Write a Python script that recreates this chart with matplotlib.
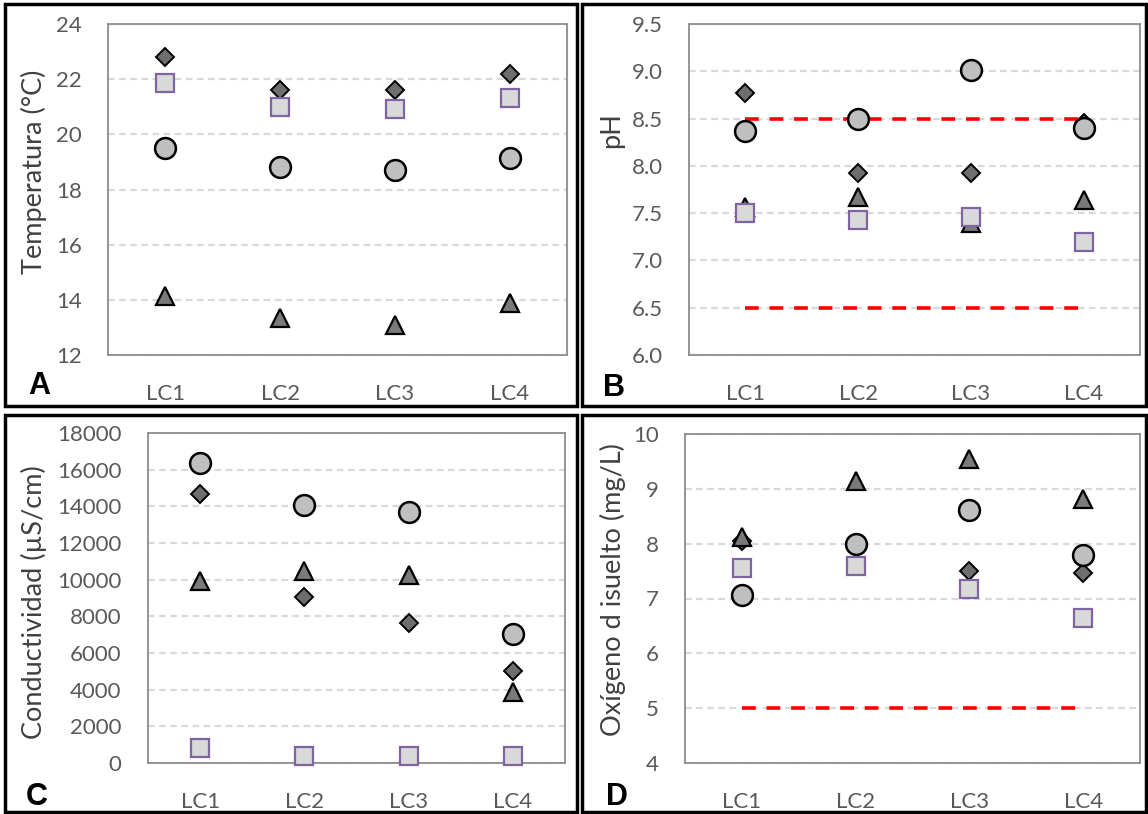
"""Four-panel water quality scatter: temperature, pH, conductivity and dissolved oxygen per site."""

import matplotlib
matplotlib.use("Agg")
import matplotlib.pyplot as plt
from matplotlib.patches import Rectangle

plt.rcParams["font.family"] = ["Lato", "DejaVu Sans"]

W_PX, H_PX = 1148, 814

SITES = ["LC1", "LC2", "LC3", "LC4"]

# Temperature (°C)
TEMP_DIAMOND = [22.8, 21.6, 21.6, 22.2]
TEMP_TRIANGLE = [14.15, 13.35, 13.1, 13.9]
TEMP_CIRCLE = [19.5, 18.8, 18.7, 19.15]
TEMP_SQUARE = [21.85, 21.0, 20.92, 21.32]

# pH
PH_DIAMOND = [8.77, 7.92, 7.92, 8.45]
PH_TRIANGLE = [7.56, 7.67, 7.40, 7.64]
PH_CIRCLE = [8.37, 8.50, 9.01, 8.40]
PH_SQUARE = [7.50, 7.43, 7.46, 7.19]
PH_LIMITS = [8.5, 6.5]

# Conductivity (µS/cm)
COND_DIAMOND = [14700, 9080, 7620, 5020]
COND_TRIANGLE = [9950, 10500, 10230, 3900]
COND_CIRCLE = [16350, 14100, 13700, 7030]
COND_SQUARE = [820, 400, 400, 400]

# Dissolved oxygen (mg/L)
OD_DIAMOND = [8.05, 7.98, 7.50, 7.46]
OD_TRIANGLE = [8.12, 9.15, 9.55, 8.81]
OD_CIRCLE = [7.06, 8.0, 8.62, 7.79]
OD_SQUARE = [7.55, 7.59, 7.18, 6.65]
OD_LIMITS = [5.0]

TICK_COLOR = "#595959"
LABEL_COLOR = "#404040"
GRID_COLOR = "#d9d9d9"
SPINE_COLOR = "#8c8c8c"

# marker styles, listed bottom to top
MARKERS = [
    dict(marker="D", ms=9.3, mfc="#6e6e6e", mec="black", mew=1.4),
    dict(marker="^", ms=13, mfc="#7a7a7a", mec="black", mew=1.6),
    dict(marker="o", ms=15, mfc="#bfbfbf", mec="black", mew=1.8),
    dict(marker="s", ms=13.5, mfc="#d9d9d9", mec="#7f63a2", mew=1.6),
]


def px_box(left, top, right, bottom):
    return [left / W_PX, 1 - bottom / H_PX, (right - left) / W_PX, (bottom - top) / H_PX]


def px_pt(x, y):
    return x / W_PX, 1 - y / H_PX


def draw_panel(fig, box, series, yticks, ylim, fmt, ylabel, ylabel_xy, letter, letter_xy,
               limits=None):
    ax = fig.add_axes(px_box(*box))
    xx = range(1, len(SITES) + 1)
    for vals, style in zip(series, MARKERS):
        ax.plot(xx, vals, linestyle="none", zorder=4, clip_on=False, **style)
    for lim in (limits or []):
        ax.plot([1, len(SITES)], [lim, lim], color="#ff0000", lw=2.6,
                dashes=(3.8, 3.0), zorder=3)
    ax.set_xlim(0.5, len(SITES) + 0.5)
    ax.set_ylim(*ylim)
    ax.set_yticks(yticks)
    ax.set_yticklabels([fmt.format(v) for v in yticks])
    ax.set_xticks(list(xx))
    ax.set_xticklabels(SITES)
    ax.tick_params(axis="y", length=0, pad=19, labelsize=16, labelcolor=TICK_COLOR)
    ax.tick_params(axis="x", length=0, pad=21, labelsize=16, labelcolor=TICK_COLOR)
    ax.yaxis.grid(True, color=GRID_COLOR, lw=1.6, dashes=(3.0, 2.0))
    ax.set_axisbelow(True)
    for sp in ax.spines.values():
        sp.set_color(SPINE_COLOR)
        sp.set_linewidth(1.3)
    fig.text(*px_pt(*ylabel_xy), ylabel, rotation=90, ha="center", va="center",
             fontsize=19.5, color=LABEL_COLOR)
    fig.text(*px_pt(*letter_xy), letter, ha="center", va="center", fontsize=22,
             fontweight="bold", family=["Liberation Sans", "DejaVu Sans"], color="black")
    return ax


fig = plt.figure(figsize=(W_PX / 100, H_PX / 100), dpi=100)

# black frames around each panel
for frame in [(5, 4, 577, 406), (582, 4, 1146, 406), (5, 415, 577, 812), (582, 415, 1146, 812)]:
    l, t, r, b = frame
    fig.patches.append(Rectangle(px_pt(l, b), (r - l) / W_PX, (b - t) / H_PX,
                                 transform=fig.transFigure, fill=False,
                                 edgecolor="black", lw=2.5))

draw_panel(fig, (108, 24, 567, 355),
           [TEMP_DIAMOND, TEMP_TRIANGLE, TEMP_CIRCLE, TEMP_SQUARE],
           [12, 14, 16, 18, 20, 22, 24], (12, 24), "{:d}",
           "Temperatura (°C)", (34, 172), "A", (39, 386))

draw_panel(fig, (689, 24, 1140, 355),
           [PH_DIAMOND, PH_TRIANGLE, PH_CIRCLE, PH_SQUARE],
           [6.0, 6.5, 7.0, 7.5, 8.0, 8.5, 9.0, 9.5], (6.0, 9.5), "{:.1f}",
           "pH", (612, 130), "B", (614, 388), limits=PH_LIMITS)

draw_panel(fig, (148, 433, 565, 763),
           [COND_DIAMOND, COND_TRIANGLE, COND_CIRCLE, COND_SQUARE],
           list(range(0, 18001, 2000)), (0, 18000), "{:d}",
           "Conductividad (µS/cm)", (34, 602), "C", (37, 797))

draw_panel(fig, (685, 434, 1140, 763),
           [OD_DIAMOND, OD_TRIANGLE, OD_CIRCLE, OD_SQUARE],
           [4, 5, 6, 7, 8, 9, 10], (4, 10), "{:d}",
           "Oxígeno d isuelto (mg/L)", (613, 590), "D", (617, 797), limits=OD_LIMITS)

fig.savefig("out.png", dpi=100)
